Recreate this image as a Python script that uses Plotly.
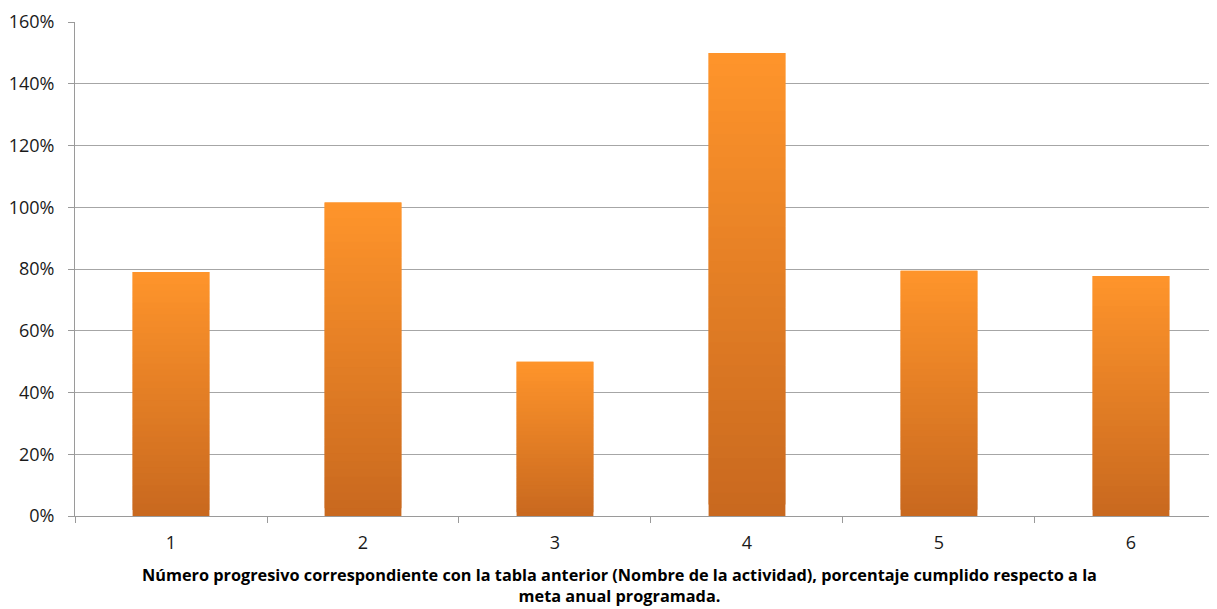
import plotly.graph_objects as go

categories = ["1", "2", "3", "4", "5", "6"]
values = [0.79, 1.015, 0.50, 1.50, 0.794, 0.777]
y_ticks = [0, 0.2, 0.4, 0.6, 0.8, 1.0, 1.2, 1.4, 1.6]
x_title = ("Número progresivo correspondiente con la tabla anterior (Nombre de la actividad), "
           "porcentaje cumplido respecto a la<br>meta anual programada.")

top_rgb = (254, 148, 43)
bot_rgb = (201, 105, 31)
N = 40

fig = go.Figure()
for k in range(N):
    t = k / (N - 1)
    c = tuple(round(b + (tp - b) * t) for b, tp in zip(bot_rgb, top_rgb))
    bases = [v * k / N for v in values]
    tops = [min(v * (k + 2) / N, v) for v in values]
    fig.add_trace(go.Bar(
        x=categories,
        y=[tp - b for tp, b in zip(tops, bases)],
        base=bases,
        width=0.4,
        marker=dict(color="rgb(%d,%d,%d)" % c, line=dict(width=0)),
        showlegend=False,
        hoverinfo="skip",
    ))

fig.update_layout(
    width=1209, height=601,
    margin=dict(l=67, r=0, t=14, b=93),
    barmode="overlay",
    paper_bgcolor="white", plot_bgcolor="white",
    font=dict(family="Open Sans, Noto Sans, sans-serif", size=18, color="#1a1a1a"),
    xaxis=dict(
        type="category", range=[-0.5, 5.448],
        showline=True, linecolor="#9a9a9a", linewidth=1,
        ticks="outside", tickson="boundaries", ticklen=6, tickcolor="#9a9a9a",
        showgrid=False, tickfont=dict(size=18), ticklabelstandoff=10,
    ),
    yaxis=dict(
        range=[0, 1.6], tickvals=y_ticks, tickformat=".0%",
        showline=True, linecolor="#9a9a9a", linewidth=1,
        ticks="outside", ticklen=6, tickcolor="#9a9a9a",
        showgrid=True, gridcolor="#a6a6a6", gridwidth=1,
        zeroline=False, tickfont=dict(size=18), ticklabelstandoff=10,
    ),
    annotations=[dict(
        text="<b>" + x_title + "</b>", xref="paper", yref="paper",
        x=0.477, y=-0.093, xanchor="center", yanchor="top", showarrow=False,
        font=dict(size=16.3, color="#000000"), align="center",
    )],
)
fig.write_html("out.html")
